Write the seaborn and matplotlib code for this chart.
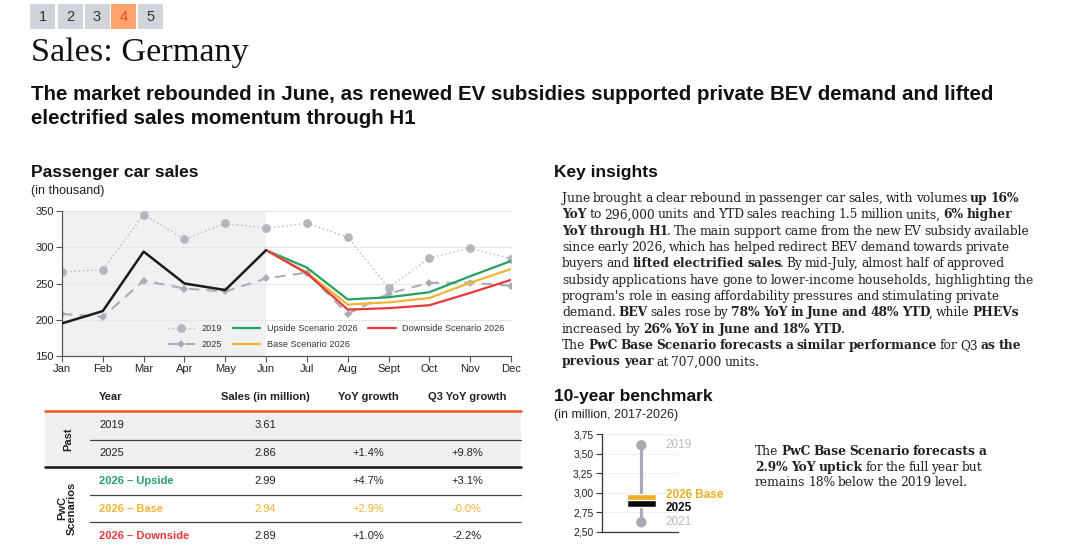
import matplotlib
matplotlib.use("Agg")
import numpy as np
import pandas as pd
import matplotlib.pyplot as plt
import matplotlib.ticker as mticker
import seaborn as sns

# monthly passenger car sales (thousand)
months = ["Jan", "Feb", "Mar", "Apr", "May", "Jun", "Jul", "Aug", "Sept", "Oct", "Nov", "Dec"]
sales_2019 = [266, 269, 345, 311, 333, 326, 333, 314, 244, 285, 299, 284]
sales_2025 = [208, 204, 254, 243, 239, 257, 265, 208, 236, 251, 251, 247]
sales_2026 = [195, 212, 294, 250, 241, 296]
# scenarios Jun-Dec
upside_2026 = [296, 272, 228, 231, 238, 260, 281]
base_2026 = [296, 265, 221, 224, 230, 251, 270]
downside_2026 = [296, 264, 214, 216, 220, 237, 255]

# table
table_years = ["2019", "2025", "2026 – Upside", "2026 – Base", "2026 – Downside"]
table_sales = ["3.61", "2.86", "2.99", "2.94", "2.89"]
table_yoy = ["", "+1.4%", "+4.7%", "+2.9%", "+1.0%"]
table_q3 = ["", "+9.8%", "+3.1%", "-0.0%", "-2.2%"]

# 10-year benchmark (million)
bench_labels = ["2019", "2021", "2025", "2026 Base"]
bench_vals = [3.61, 2.62, 2.86, 2.94]

GREEN = "#25a065"
YELLOW = "#f3b434"
RED = "#e8383d"
GREY = "#b3b6bc"
DARK = "#222222"
SERIF = "DejaVu Serif"

sns.set_theme(style="white")
plt.rcParams['font.family'] = ['Liberation Sans', 'DejaVu Sans']

fig = plt.figure(figsize=(10.8, 5.54), dpi=100)

# background axes in pixel units for text & decoration
bg = fig.add_axes([0, 0, 1, 1], zorder=0)
bg.set_xlim(0, 1080)
bg.set_ylim(554, 0)
bg.axis("off")
bg.patch.set_alpha(0)
rend = fig.canvas.get_renderer()

# tabs
tab_x = [30, 57.5, 84.5, 111, 138]
for i, tx in enumerate(tab_x):
    active = (i == 3)
    bg.add_patch(plt.Rectangle((tx, 4), 25, 25, color="#fda36d" if active else "#d1d4d9", lw=0))
    bg.text(tx + 12.5, 17, str(i + 1), ha="center", va="center", fontsize=10.5,
            color="#e8501a" if active else "#333333")

bg.text(31, 61, "Sales: Germany", fontsize=24.7, family="Liberation Serif", color="#111111", va="baseline")
bg.text(31, 100, "The market rebounded in June, as renewed EV subsidies supported private BEV demand and lifted",
        fontsize=14.8, weight="bold", color="#111111", va="baseline")
bg.text(31, 124.5, "electrified sales momentum through H1", fontsize=14.8, weight="bold", color="#111111", va="baseline")

bg.text(31, 177, "Passenger car sales", fontsize=12.5, weight="bold", color="#111111", va="baseline")
bg.text(31, 194, "(in thousand)", fontsize=9, color="#222222", va="baseline")
bg.text(554, 177, "Key insights", fontsize=12.5, weight="bold", color="#111111", va="baseline")
bg.text(554, 400.5, "10-year benchmark", fontsize=12.5, weight="bold", color="#111111", va="baseline")
bg.text(554, 418, "(in million, 2017-2026)", fontsize=9, color="#222222", va="baseline")


def text_w(s, w, size):
    t = bg.text(0, 0, s, fontsize=size, family=SERIF, weight=w)
    wd = t.get_window_extent(rend).width
    t.remove()
    return wd


def rich_lines(x0, y0, lines, step, size=8.8):
    # place regular / **bold** words one after another, advance measured with a sentinel glyph
    sent = {w: text_w("x", w, size) for w in ["normal", "bold"]}
    for i, line in enumerate(lines):
        words = []
        for j, part in enumerate(line.split("**")):
            w = "bold" if j % 2 else "normal"
            items = part.split(" ")
            for k, item in enumerate(items):
                if item:
                    words.append([item, w, False])
                if k < len(items) - 1 and words:
                    words[-1][2] = True
        x = x0
        y = y0 + i * step
        for word, w, sp in words:
            bg.text(x, y, word, fontsize=size, family=SERIF, weight=w, color="#222222", va="baseline")
            x += text_w(word + (" x" if sp else "x"), w, size) - sent[w] - (1.2 if sp else 1.6)


insights = [
    "June brought a clear rebound in passenger car sales, with volumes **up 16%**",
    "**YoY** to 296,000 units and YTD sales reaching 1.5 million units, **6% higher**",
    "**YoY through H1**. The main support came from the new EV subsidy available",
    "since early 2026, which has helped redirect BEV demand towards private",
    "buyers and **lifted electrified sales**. By mid-July, almost half of approved",
    "subsidy applications have gone to lower-income households, highlighting the",
    "program's role in easing affordability pressures and stimulating private",
    "demand. **BEV** sales rose by **78% YoY in June and 48% YTD**, while **PHEVs**",
    "increased by **26% YoY in June and 18% YTD**.",
    "The **PwC Base Scenario forecasts a similar performance** for Q3 **as the**",
    "**previous year** at 707,000 units.",
]
rich_lines(562, 202, insights, 16.35)

bench_text = [
    "The **PwC Base Scenario forecasts a**",
    "**2.9% YoY uptick** for the full year but",
    "remains 18% below the 2019 level.",
]
rich_lines(755, 455, bench_text, 15.6)

# ---- table ----
bg.add_patch(plt.Rectangle((45, 411), 476, 56, color="#eff0f2", lw=0))
bg.plot([45, 521], [411, 411], color="#f0561c", lw=1.8)
bg.plot([45, 521], [467, 467], color="#111111", lw=1.8)
for yy in [439.5, 494.5, 522]:
    bg.plot([90, 521], [yy, yy], color="#444444", lw=0.9)

col_x = [99, 265, 368, 467]
heads = ["Year", "Sales (in million)", "YoY growth", "Q3 YoY growth"]
for i, h in enumerate(heads):
    bg.text(col_x[i], 397, h, fontsize=8, weight="bold", color=DARK,
            ha="left" if i == 0 else "center", va="center")

row_y = [425, 453, 481, 508.5, 536]
label_cols = [DARK, DARK, GREEN, YELLOW, RED]
for r in range(len(table_years)):
    vc = YELLOW if r == 3 else DARK
    bg.text(col_x[0], row_y[r], table_years[r], fontsize=8, color=label_cols[r],
            weight="bold" if r >= 2 else "normal", va="center")
    bg.text(col_x[1], row_y[r], table_sales[r], fontsize=8, color=vc, ha="center", va="center")
    bg.text(col_x[2], row_y[r], table_yoy[r], fontsize=8, color=vc, ha="center", va="center")
    bg.text(col_x[3], row_y[r], table_q3[r], fontsize=8, color=vc, ha="center", va="center")
bg.text(68, 439, "Past", rotation=90, fontsize=8, weight="bold", color=DARK, ha="center", va="center")
bg.text(67, 508, "PwC\nScenarios", rotation=90, fontsize=8, weight="bold", color=DARK,
        ha="center", va="center", multialignment="center", linespacing=1.05)

# ---- line chart ----
ax = fig.add_axes([62 / 1080, 1 - 356 / 554, 449 / 1080, 145 / 554], zorder=2)
ax.patch.set_alpha(0)
x = np.arange(len(months))
jun = months.index("Jun")
ax.axvspan(0, jun, color="#f0f1f3", lw=0, zorder=0)

sns.lineplot(x=x, y=sales_2019, ax=ax, color=GREY, lw=1.0, linestyle=(0, (1, 2)),
             marker="o", markersize=6.3, markeredgewidth=0, label="2019", zorder=2)
sns.lineplot(x=x, y=sales_2025, ax=ax, color="#a9adb5", lw=1.5, linestyle=(0, (5, 3.5)),
             marker="D", markersize=3.8, markeredgewidth=0, label="2025", zorder=2)
xs = x[jun:]
sns.lineplot(x=xs, y=upside_2026, ax=ax, color=GREEN, lw=1.6, label="Upside Scenario 2026", zorder=3)
sns.lineplot(x=xs, y=base_2026, ax=ax, color=YELLOW, lw=1.6, label="Base Scenario 2026", zorder=3)
sns.lineplot(x=xs, y=downside_2026, ax=ax, color=RED, lw=1.6, label="Downside Scenario 2026", zorder=3)
sns.lineplot(x=x[:jun + 1], y=sales_2026, ax=ax, color="#231815", lw=1.8, zorder=4)

ax.set_xlim(0, 11)
ax.set_ylim(150, 350)
ax.set_yticks([150, 200, 250, 300, 350])
ax.set_xticks(x)
ax.set_xticklabels(months)
ax.yaxis.grid(True, color="#e4e5e8", lw=0.8)
ax.set_axisbelow(True)
for s in ["top", "right"]:
    ax.spines[s].set_visible(False)
for s in ["left", "bottom"]:
    ax.spines[s].set_color("#555555")
    ax.spines[s].set_linewidth(0.9)
ax.tick_params(axis="both", which="both", length=4, width=0.8, color="#555555",
               labelsize=8, labelcolor="#222222", pad=2, bottom=True, left=True)
ax.set_xlabel("")
ax.set_ylabel("")

h, l = ax.get_legend_handles_labels()
hd = dict(zip(l, h))
order = ["2019", "2025", "Upside Scenario 2026", "Base Scenario 2026", "Downside Scenario 2026"]
ax.legend([hd[k] for k in order], order, ncol=3, loc="lower left", bbox_to_anchor=(0.235, 0.05),
          frameon=False, fontsize=6.6, handlelength=3.0, handletextpad=0.7, columnspacing=1.2,
          labelspacing=0.75, borderpad=0, borderaxespad=0, labelcolor="#333333")

# ---- benchmark ----
bx = fig.add_axes([601.7 / 1080, 1 - 531.7 / 554, 76.3 / 1080, 97.4 / 554], zorder=2)
bx.patch.set_alpha(0)
bv = dict(zip(bench_labels, bench_vals))
cx = 0.52
bx.vlines(cx, bv["2021"], bv["2019"], color="#a8abb2", lw=2.3, zorder=2)
sns.scatterplot(x=[cx, cx], y=[bv["2019"], bv["2021"]], ax=bx, s=55, color="#a8abb2",
                edgecolor="none", zorder=3)
bx.bar(cx, 0.09, bottom=bv["2026 Base"] - 0.045, width=0.38, color="#ebb022", zorder=4)
bx.bar(cx, 0.09, bottom=bv["2025"] - 0.045, width=0.38, color="#0a0a0a", zorder=5)
bx.text(0.84, 3.61, "2019", fontsize=8.5, color="#b8bcc4", va="center")
bx.text(0.84, 2.97, "2026 Base", fontsize=8.5, weight="bold", color="#ebb022", va="center")
bx.text(0.84, 2.81, "2025", fontsize=8.5, weight="bold", color="#111111", va="center")
bx.text(0.84, 2.62, "2021", fontsize=8.5, color="#b8bcc4", va="center")
bx.set_xlim(0, 1)
bx.set_ylim(2.5, 3.75)
bx.set_yticks([2.5, 2.75, 3.0, 3.25, 3.5, 3.75])
bx.yaxis.set_major_formatter(mticker.FuncFormatter(lambda v, p: f"{v:.2f}".replace(".", ",")))
bx.set_xticks([])
bx.yaxis.grid(True, color="#f0f0f0", lw=0.8)
bx.set_axisbelow(True)
for s in ["top", "right"]:
    bx.spines[s].set_visible(False)
for s in ["left", "bottom"]:
    bx.spines[s].set_color("#333333")
    bx.spines[s].set_linewidth(0.9)
bx.tick_params(axis="y", length=4, width=0.8, color="#333333", labelsize=7.5,
               labelcolor="#222222", pad=2, left=True)

fig.savefig("out.png", dpi=100)
